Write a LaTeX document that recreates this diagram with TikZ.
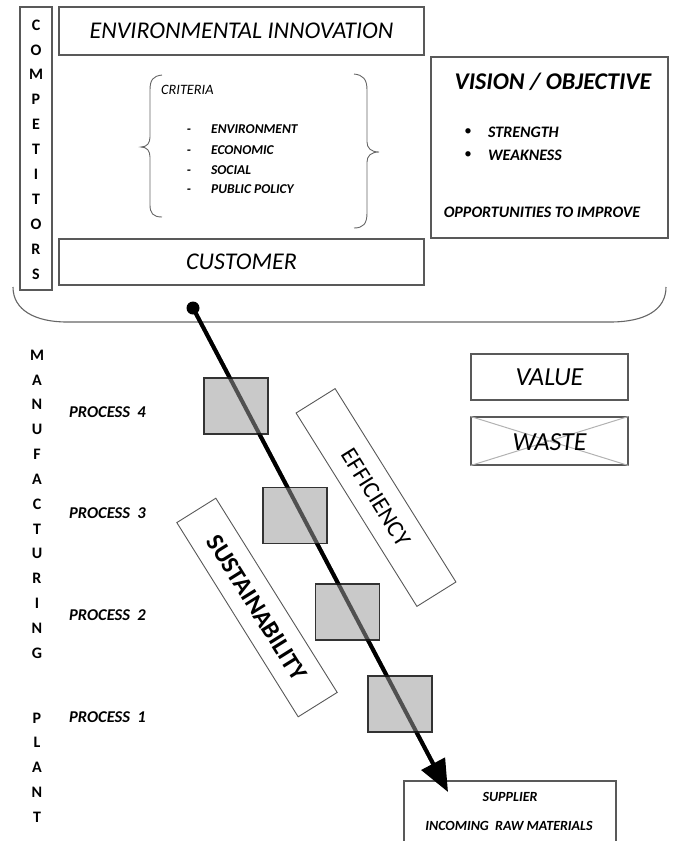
\documentclass[tikz,border=0pt]{standalone}
\usepackage{fontspec}
\setmainfont{Carlito}
\usetikzlibrary{arrows.meta}
\begin{document}
\begin{tikzpicture}[x=1pt,y=-1pt,
  frame/.style={draw=black!65,line width=1.1pt,inner sep=0pt},
  procbox/.style={draw=black!80,line width=1.5pt,fill=black!21,
    minimum width=64pt,minimum height=56pt,inner sep=0pt},
  slantbox/.style={draw=black!65,line width=0.9pt,fill=white,rotate=-58,
    minimum width=228pt,minimum height=46pt,inner sep=0pt},
  vletter/.style={font=\fontsize{16}{16}\selectfont\bfseries,inner sep=0pt},
  proclabel/.style={font=\fontsize{16.5}{16.5}\selectfont\bfseries\itshape,anchor=west,inner sep=0pt},
  critem/.style={font=\fontsize{13.5}{13.5}\selectfont\bfseries\itshape,anchor=west,inner sep=0pt},
  sidetext/.style={font=\fontsize{16}{16}\selectfont\bfseries\itshape,inner sep=0pt},
  bigtitle/.style={font=\fontsize{24}{24}\selectfont\itshape},
  thinline/.style={draw=black!60,line width=0.9pt},
  flow/.style={line width=4pt}]
\useasboundingbox (0,0) rectangle (673,841);

% upper frames
\node[frame,minimum width=32pt,minimum height=283pt] (comp) at (36,148.5) {};
\foreach \ch [count=\i from 0] in {C,O,M,P,E,T,I,T,O,R,S}
  \node[vletter] (comp\i) at (36,25+24.9*\i) {\ch};
\node[frame,bigtitle,minimum width=365pt,minimum height=48pt] (envinn) at (241.5,31) {ENVIRONMENTAL INNOVATION};
\node[frame,bigtitle,minimum width=365pt,minimum height=46pt] (cust) at (241.5,262) {CUSTOMER};
\node[frame,minimum width=237pt,minimum height=181pt] (vision) at (549.5,147.5) {};

% criteria between braces
\draw[thinline] (162,75) .. controls (153,76) and (150,80) .. (150,90) -- (150,137)
  .. controls (150,143) and (147,147) .. (141,147)
  .. controls (147,147) and (150,151) .. (150,157) -- (150,205)
  .. controls (150,213) and (153,217) .. (162,217);
\draw[thinline] (354,74) .. controls (363,75) and (367,79) .. (367,90) -- (367,142)
  .. controls (367,148) and (371,152) .. (379,152)
  .. controls (371,152) and (367,156) .. (367,162) -- (367,213)
  .. controls (367,224) and (363,228) .. (354,228);
\node[font=\fontsize{14.3}{14.3}\selectfont\itshape,anchor=west,inner sep=0pt] (crit) at (161,90) {CRITERIA};
\foreach \t/\y [count=\i] in {ENVIRONMENT/129,ECONOMIC/150,SOCIAL/170,PUBLIC POLICY/189}{
  \node[critem,anchor=center] (dash\i) at (189,\y+2) {-};
  \node[critem] (item\i) at (211,\y) {\t};
}

% vision / objective contents
\node[font=\fontsize{24}{24}\selectfont\bfseries\itshape,inner sep=0pt] (vtitle) at (553,82) {VISION / OBJECTIVE};
\node[inner sep=0pt] (bul1) at (468,132) {\fontsize{15}{15}\selectfont\textbullet};
\node[inner sep=0pt] (bul2) at (468,155) {\fontsize{15}{15}\selectfont\textbullet};
\node[sidetext,anchor=west] (str) at (488,132) {STRENGTH};
\node[sidetext,anchor=west] (weak) at (488,155) {WEAKNESS};
\node[sidetext] (opp) at (542,212) {OPPORTUNITIES TO IMPROVE};

% surrounding bracket of the upper block
\draw[thinline,line width=1.1pt] (13,287) .. controls (13,310) and (35,322) .. (67,322) -- (610,322)
  .. controls (645,322) and (666,310) .. (666,287);

% manufacturing plant column
\foreach \ch [count=\i from 0] in {M,A,N,U,F,A,C,T,U,R,I,N,G}
  \node[vletter] (mfg\i) at (37,355+24.85*\i) {\ch};
\foreach \ch [count=\i from 0] in {P,L,A,N,T}
  \node[vletter] (plant\i) at (37,718+24.8*\i) {\ch};
\node[proclabel] (lab4) at (69,412) {PROCESS\ \ 4};
\node[proclabel] (lab3) at (69,513) {PROCESS\ \ 3};
\node[proclabel] (lab2) at (69,615) {PROCESS\ \ 2};
\node[proclabel] (lab1) at (69,717) {PROCESS\ \ 1};

% value / waste legend
\node[frame,font=\fontsize{26}{26}\selectfont\itshape,minimum width=157pt,minimum height=46pt] (value) at (549.5,377) {VALUE};
\node[frame,minimum width=157pt,minimum height=48pt] (waste) at (549.5,441) {};
\draw[black!30,line width=1pt] (waste.north west) -- (waste.south east)
  (waste.south west) -- (waste.north east);
\node[font=\fontsize{26}{26}\selectfont\itshape,inner sep=0pt] (wastetext) at (549.5,442) {WASTE};

% slanted drivers
\node[slantbox,font=\fontsize{24}{24}\selectfont] (eff) at (376,497.5) {EFFICIENCY};
\node[slantbox,font=\fontsize{25}{25}\selectfont\bfseries,minimum width=229pt] (sust) at (257,607.5) {SUSTAINABILITY};

% supplier box (open at the lower edge)
\draw[draw=black!65,line width=1.1pt] (404,850) -- (404,781) -- (616,781) -- (616,850);
\node[font=\fontsize{14}{14}\selectfont\bfseries\itshape,inner sep=0pt] (supp) at (510,797) {SUPPLIER};
\node[font=\fontsize{14}{14}\selectfont\bfseries\itshape,inner sep=0pt] (raw) at (509,826) {INCOMING~~RAW MATERIALS};

% main flow
\coordinate (start) at (193,308);
\coordinate (tip) at (448,792);
\draw[flow,-{Triangle[length=32pt,width=26pt]}] (start) -- (tip);
\fill (start) circle (6.5pt);

% process steps on the flow
\node[procbox] (p4) at (236,406) {};
\node[procbox] (p3) at (295,515.5) {};
\node[procbox] (p2) at (347.5,612) {};
\node[procbox] (p1) at (400,704) {};

% flow line showing through the process steps
\draw[flow,opacity=0.6,shorten >=30pt] (start) -- (tip);
\end{tikzpicture}
\end{document}
